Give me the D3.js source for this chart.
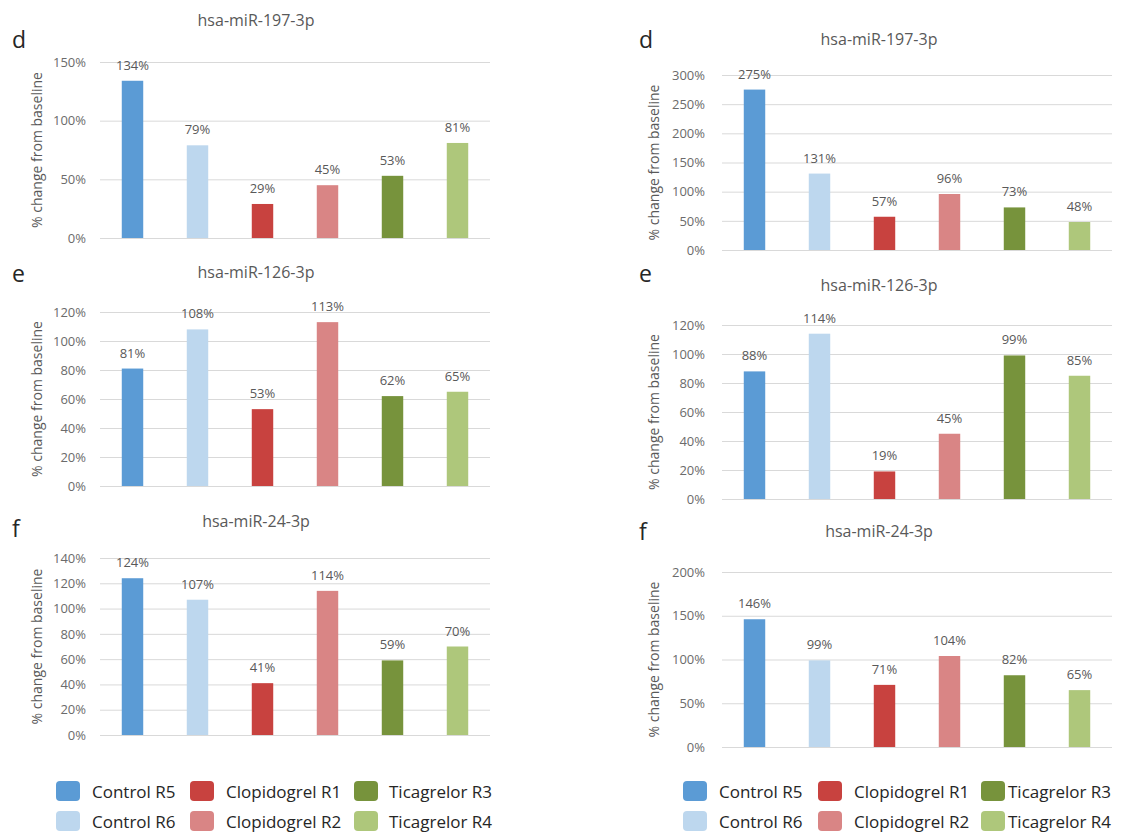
<!DOCTYPE html>
<html>
<head>
<meta charset="utf-8">
<script src="https://cdn.jsdelivr.net/npm/d3@7"></script>
<style>
  html, body { margin: 0; padding: 0; background: #ffffff; }
  svg { display: block; }
  .tick text { font-family: "Open Sans", sans-serif; }
</style>
</head>
<body>
<svg id="chart" width="1123" height="834"></svg>
<script>
// ---------------- DATA ----------------
const categories = ["Control R5", "Control R6", "Clopidogrel R1", "Clopidogrel R2", "Ticagrelor R3", "Ticagrelor R4"];
const seriesColors = ["#5B9BD5", "#BDD7EE", "#C8423F", "#D98585", "#77933C", "#AEC77B"];

const panelTitles = ["hsa-miR-197-3p", "hsa-miR-126-3p", "hsa-miR-24-3p", "hsa-miR-197-3p", "hsa-miR-126-3p", "hsa-miR-24-3p"];
const panelLetters = ["d", "e", "f", "d", "e", "f"];

const leftMiR197 = [134, 79, 29, 45, 53, 81];
const leftMiR126 = [81, 108, 53, 113, 62, 65];
const leftMiR24  = [124, 107, 41, 114, 59, 70];
const rightMiR197 = [275, 131, 57, 96, 73, 48];
const rightMiR126 = [88, 114, 19, 45, 99, 85];
const rightMiR24  = [146, 99, 71, 104, 82, 65];

const leftMiR197Ticks = [0, 50, 100, 150];
const leftMiR126Ticks = [0, 20, 40, 60, 80, 100, 120];
const leftMiR24Ticks  = [0, 20, 40, 60, 80, 100, 120, 140];
const rightMiR197Ticks = [0, 50, 100, 150, 200, 250, 300];
const rightMiR126Ticks = [0, 20, 40, 60, 80, 100, 120];
const rightMiR24Ticks  = [0, 50, 100, 150, 200];

const yAxisLabel = "% change from baseline";

// ---------------- LAYOUT ----------------
const panels = [
  { values: leftMiR197,  ticks: leftMiR197Ticks,  x0: 100, x1: 490,  yTop: 62,  yBot: 238, titleX: 256, titleY: 26,  letterX: 12,  letterY: 48,  labelX: 36,  tickPad: 14 },
  { values: leftMiR126,  ticks: leftMiR126Ticks,  x0: 100, x1: 490,  yTop: 312, yBot: 486, titleX: 256, titleY: 278, letterX: 12,  letterY: 282, labelX: 36,  tickPad: 14 },
  { values: leftMiR24,   ticks: leftMiR24Ticks,   x0: 100, x1: 490,  yTop: 558, yBot: 735, titleX: 256, titleY: 527, letterX: 12,  letterY: 537, labelX: 36,  tickPad: 14 },
  { values: rightMiR197, ticks: rightMiR197Ticks, x0: 722, x1: 1112, yTop: 75,  yBot: 250, titleX: 879, titleY: 45,  letterX: 639, letterY: 48,  labelX: 653, tickPad: 17 },
  { values: rightMiR126, ticks: rightMiR126Ticks, x0: 722, x1: 1112, yTop: 325, yBot: 499, titleX: 879, titleY: 291, letterX: 639, letterY: 282, labelX: 653, tickPad: 17 },
  { values: rightMiR24,  ticks: rightMiR24Ticks,  x0: 722, x1: 1112, yTop: 572, yBot: 747, titleX: 879, titleY: 537, letterX: 639, letterY: 540, labelX: 653, tickPad: 17 }
];

const legends = [
  { swatchX: [56, 190, 354], textX: [92, 226, 389] },
  { swatchX: [683, 818, 981], textX: [719, 854, 1008] }
];
const legendRowY = [781, 811];

const svg = d3.select("#chart");

panels.forEach((p, i) => {
  const g = svg.append("g");

  const x = d3.scaleBand()
    .domain(categories)
    .range([p.x0, p.x1])
    .paddingInner(0.67)
    .paddingOuter(0.335);

  const yMax = p.ticks[p.ticks.length - 1];
  const y = d3.scaleLinear().domain([0, yMax]).range([p.yBot, p.yTop]);

  // axis + gridlines
  const axis = d3.axisLeft(y)
    .tickValues(p.ticks)
    .tickSize(-(p.x1 - p.x0))
    .tickPadding(p.tickPad)
    .tickFormat(d => d + "%");

  const ag = g.append("g")
    .attr("transform", `translate(${p.x0},0)`)
    .call(axis);
  ag.select(".domain").remove();
  ag.selectAll(".tick line").attr("stroke", "#D9D9D9").attr("stroke-width", 1);
  ag.selectAll(".tick text")
    .attr("fill", "#6b6b6b")
    .style("font-size", "13px");

  // bars
  g.selectAll("rect.bar")
    .data(p.values)
    .join("rect")
    .attr("class", "bar")
    .attr("x", (d, j) => x(categories[j]))
    .attr("width", x.bandwidth())
    .attr("y", d => y(d))
    .attr("height", d => y(0) - y(d))
    .attr("fill", (d, j) => seriesColors[j]);

  // value labels
  g.selectAll("text.val")
    .data(p.values)
    .join("text")
    .attr("class", "val")
    .attr("x", (d, j) => x(categories[j]) + x.bandwidth() / 2)
    .attr("y", d => y(d) - 11)
    .attr("text-anchor", "middle")
    .attr("font-family", "Open Sans, sans-serif")
    .attr("font-size", 13)
    .attr("fill", "#595959")
    .text(d => d + "%");

  // title
  g.append("text")
    .attr("x", p.titleX)
    .attr("y", p.titleY)
    .attr("text-anchor", "middle")
    .attr("font-family", "Open Sans, sans-serif")
    .attr("font-size", 16)
    .attr("fill", "#595959")
    .text(panelTitles[i]);

  // panel letter
  g.append("text")
    .attr("x", p.letterX)
    .attr("y", p.letterY)
    .attr("font-family", "Open Sans, sans-serif")
    .attr("font-size", 23)
    .attr("fill", "#262626")
    .text(panelLetters[i]);

  // y axis label
  g.append("text")
    .attr("transform", `translate(${p.labelX},${(p.yTop + p.yBot) / 2}) rotate(-90)`)
    .attr("text-anchor", "middle")
    .attr("dominant-baseline", "central")
    .attr("font-family", "Open Sans, sans-serif")
    .attr("font-size", 14)
    .attr("fill", "#595959")
    .text(yAxisLabel);
});

// legends: 3 columns x 2 rows, column-major order
legends.forEach(L => {
  const lg = svg.append("g");
  categories.forEach((c, k) => {
    const col = Math.floor(k / 2), row = k % 2;
    lg.append("rect")
      .attr("x", L.swatchX[col])
      .attr("y", legendRowY[row])
      .attr("width", 24)
      .attr("height", 20)
      .attr("rx", 4)
      .attr("fill", seriesColors[k]);
    lg.append("text")
      .attr("x", L.textX[col])
      .attr("y", legendRowY[row] + 10)
      .attr("dominant-baseline", "central")
      .attr("font-family", "Open Sans, sans-serif")
      .attr("font-size", 17)
      .attr("fill", "#262626")
      .text(c);
  });
});
</script>
</body>
</html>
